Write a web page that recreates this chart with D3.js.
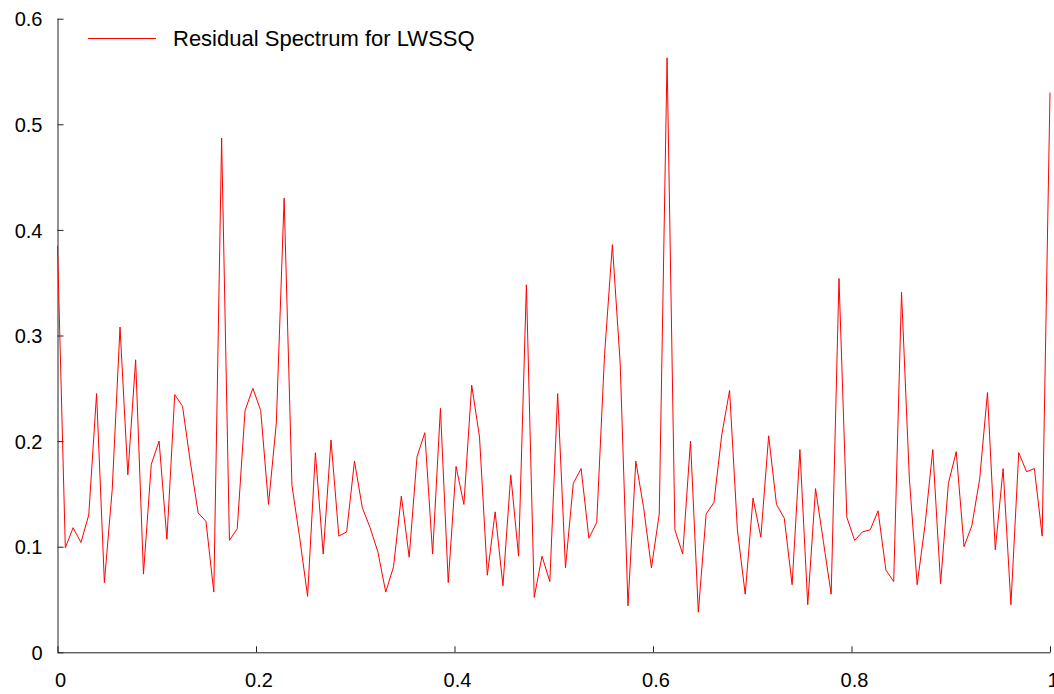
<!DOCTYPE html>
<html lang="en">
<head>
    <meta charset="UTF-8">
    <title>Residual Spectrum for LWSSQ</title>
    <script src="https://d3js.org/d3.v7.min.js"></script>
    <style>
        body { margin: 0; background: #fff; }
        svg { display: block; font-family: "Liberation Sans", Arial, sans-serif; }
        .axis path, .axis line { stroke: #222; }
    </style>
</head>
<body>
    <svg width="1054" height="694"></svg>
    <script>
        // residual spectrum values, evenly spaced over frequency 0..1
        var residual = [
            0.385, 0.099, 0.118, 0.104, 0.130, 0.245, 0.066, 0.154, 0.308, 0.168,
            0.277, 0.074, 0.178, 0.200, 0.107, 0.244, 0.233, 0.180, 0.132, 0.124,
            0.057, 0.487, 0.106, 0.117, 0.229, 0.250, 0.229, 0.140, 0.217, 0.430,
            0.158, 0.108, 0.053, 0.189, 0.093, 0.201, 0.110, 0.114, 0.181, 0.137,
            0.118, 0.095, 0.057, 0.081, 0.148, 0.090, 0.185, 0.208, 0.093, 0.231,
            0.066, 0.176, 0.140, 0.253, 0.204, 0.073, 0.133, 0.063, 0.168, 0.091,
            0.348, 0.052, 0.091, 0.067, 0.245, 0.080, 0.160, 0.174, 0.108, 0.123,
            0.282, 0.386, 0.274, 0.044, 0.181, 0.137, 0.080, 0.131, 0.563, 0.116,
            0.093, 0.200, 0.038, 0.131, 0.142, 0.206, 0.248, 0.116, 0.055, 0.146,
            0.109, 0.205, 0.140, 0.127, 0.064, 0.192, 0.045, 0.155, 0.105, 0.055,
            0.354, 0.128, 0.106, 0.114, 0.116, 0.134, 0.078, 0.067, 0.341, 0.165,
            0.064, 0.120, 0.192, 0.065, 0.160, 0.190, 0.100, 0.120, 0.164, 0.246,
            0.097, 0.174, 0.045, 0.189, 0.171, 0.174, 0.110, 0.530
        ];
        var xTicks = [0, 0.2, 0.4, 0.6, 0.8, 1];
        var yTicks = [0, 0.1, 0.2, 0.3, 0.4, 0.5, 0.6];
        var legendLabel = "Residual Spectrum for LWSSQ";

        (function draw() {
            var svg = d3.select("svg");
            var plot = {left: 57.5, right: 1050, top: 18.7, bottom: 652.3};

            var x = d3.scaleLinear().domain([0, 1]).range([plot.left, plot.right]);
            var y = d3.scaleLinear().domain([0, 0.6]).range([plot.bottom, plot.top]);

            var fmt = function(d) { return d3.format("~g")(d); };

            // Y axis, ticks point inward
            var gy = svg.append("g")
                .attr("class", "axis")
                .attr("transform", "translate(" + plot.left + ",0)")
                .call(d3.axisLeft(y).tickValues(yTicks).tickFormat(fmt)
                    .tickSizeInner(-6).tickSizeOuter(0).tickPadding(15));
            gy.selectAll("text")
                .attr("font-size", "20px")
                .attr("fill", "#000")
                .attr("dy", "0.36em");
            gy.select(".domain").attr("d", "M0.5," + plot.bottom + "V" + plot.top);

            // X axis
            var gx = svg.append("g")
                .attr("class", "axis")
                .attr("transform", "translate(0," + plot.bottom + ")")
                .call(d3.axisBottom(x).tickValues(xTicks).tickFormat(fmt)
                    .tickSizeInner(-6).tickSizeOuter(0).tickPadding(21));
            gx.selectAll("text")
                .attr("font-size", "20px")
                .attr("fill", "#000")
                .attr("x", 2.5);
            gx.select(".domain").attr("d", "M" + plot.left + ",0.5H" + (plot.right + 0.5));

            // spectrum line
            var line = d3.line()
                .x(function(d, i) { return x(i / (residual.length - 1)); })
                .y(function(d) { return y(d); });

            svg.append("path")
                .datum(residual)
                .attr("fill", "none")
                .attr("stroke", "#ff0000")
                .attr("stroke-width", 1)
                .attr("d", line);

            // legend
            var legend = svg.append("g");
            legend.append("line")
                .attr("x1", 88).attr("x2", 156)
                .attr("y1", 38.5).attr("y2", 38.5)
                .attr("stroke", "#ff0000")
                .attr("stroke-width", 1);
            legend.append("text")
                .attr("x", 173)
                .attr("y", 46)
                .attr("font-size", "22px")
                .attr("fill", "#000")
                .text(legendLabel);
        })();
    </script>
</body>
</html>
